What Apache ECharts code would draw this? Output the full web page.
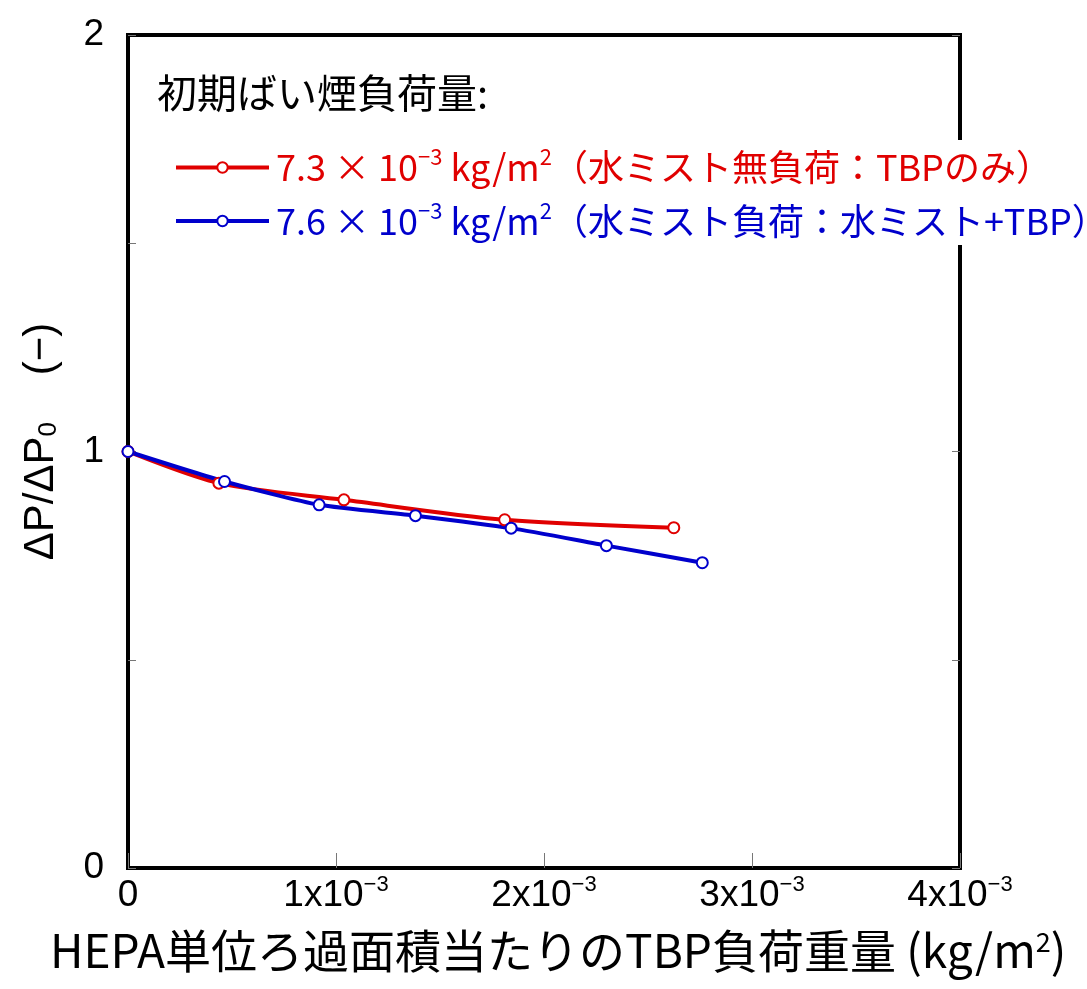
<!DOCTYPE html>
<html>
<head>
<meta charset="utf-8">
<script src="https://cdn.jsdelivr.net/npm/echarts@6/dist/echarts.min.js"></script>
<style>
  html, body { margin: 0; padding: 0; background: #fff; }
  #chart { width: 1087px; height: 989px; }
</style>
</head>
<body>
<div id="chart"></div>
<script>
// データ (x: ×10^-3 kg/m2)
const redX = [0, 0.437, 1.038, 1.811, 2.624];
const redY = [1.0, 0.924, 0.884, 0.836, 0.817];
const blueX = [0, 0.464, 0.919, 1.382, 1.842, 2.300, 2.761];
const blueY = [1.0, 0.928, 0.872, 0.846, 0.816, 0.774, 0.733];
const xTicks = [0, 1, 2, 3, 4];
const yTicks = [0, 1, 2];
const legendTitle = '初期ばい煙負荷量:';
const redName = '7.3 × 10-3 kg/m2（水ミスト無負荷：TBPのみ）';
const blueName = '7.6 × 10-3 kg/m2（水ミスト負荷：水ミスト+TBP）';

const RED = '#e00000';
const BLUE = '#0000cc';
const narrow = "'Liberation Sans Narrow', 'Liberation Sans', sans-serif";
const jp = "'Noto Sans CJK JP', 'Noto Sans', sans-serif";

const chart = echarts.init(document.getElementById('chart'));

function pairs(xs, ys) {
    return xs.map((x, i) => [x, ys[i]]);
}

const option = {
    animation: false,
    backgroundColor: '#fff',
    title: {
        text: legendTitle,
        left: 152,
        top: 68,
        textStyle: { fontFamily: jp, fontSize: 40, fontWeight: 'normal', color: '#000' }
    },
    legend: {
        orient: 'vertical',
        left: 160,
        top: 140,
        itemGap: 14,
        itemWidth: 93,
        itemHeight: 13,
        padding: [6, 14, 6, 14],
        backgroundColor: '#fff',
        lineStyle: { width: 4 },
        data: [
            { name: redName, textStyle: { color: RED } },
            { name: blueName, textStyle: { color: BLUE } }
        ],
        formatter: function (name) {
            const m = name.match(/^(\S+) × 10-3 kg\/m2(.*)$/);
            return '{p|}{t|' + m[1] + ' × 10}{s|−3}{t| kg/m}{s|2}{t|' + m[2] + '}';
        },
        textStyle: {
            fontFamily: jp,
            fontSize: 36,
            rich: {
                p: { width: 2 },
                t: { fontFamily: jp, fontSize: 36, lineHeight: 43 },
                s: { fontFamily: jp, fontSize: 22, verticalAlign: 'top', lineHeight: 28 }
            }
        }
    },
    grid: {
        left: 128,
        right: 127,
        top: 35,
        bottom: 121,
        show: true,
        borderColor: '#000',
        borderWidth: 4,
        backgroundColor: 'transparent'
    },
    xAxis: {
        type: 'value',
        min: 0,
        max: 4,
        interval: 1,
        axisLine: { show: false },
        axisTick: { show: true, inside: true, length: 15, lineStyle: { color: '#777', width: 1 } },
        splitLine: { show: false },
        axisLabel: {
            margin: 6,
            formatter: function (v) {
                return v === 0 ? '{n|0}' : '{n|' + v + 'x10}{s|−3}';
            },
            rich: {
                n: { fontFamily: narrow, fontSize: 37, color: '#000', lineHeight: 44 },
                s: { fontFamily: narrow, fontSize: 22, color: '#000', verticalAlign: 'top', lineHeight: 30 }
            }
        }
    },
    yAxis: [
        {
            type: 'value',
            min: 0,
            max: 2,
            interval: 0.5,
            name: 'ΔP/ΔP{b|0}    (−)',
            nameLocation: 'middle',
            nameRotate: 90,
            nameGap: 66,
            nameTextStyle: {
                fontFamily: "'Liberation Sans', sans-serif",
                fontSize: 42,
                color: '#000',
                padding: [0, 0, 0, 20],
                rich: {
                    b: { fontFamily: "'Liberation Sans', sans-serif", fontSize: 26, color: '#000', verticalAlign: 'bottom', lineHeight: 30 }
                }
            },
            axisLine: { show: false },
            axisTick: { show: true, inside: true, length: 8, lineStyle: { color: '#777', width: 1 } },
            splitLine: { show: false },
            axisLabel: {
                margin: 24,
                padding: [0, 0, 12, 0],
                fontFamily: narrow,
                fontSize: 37,
                color: '#000',
                formatter: function (v) {
                    return yTicks.indexOf(v) >= 0 ? String(v) : '';
                }
            }
        },
        {
            type: 'value',
            position: 'right',
            min: 0,
            max: 2,
            interval: 0.5,
            axisLine: { show: false },
            axisTick: { show: true, inside: true, length: 8, lineStyle: { color: '#777', width: 1 } },
            splitLine: { show: false },
            axisLabel: { show: false }
        }
    ],
    series: [
        {
            name: redName,
            type: 'line',
            data: pairs(redX, redY),
            smooth: 0.3,
            symbol: 'emptyCircle',
            symbolSize: 11,
            lineStyle: { color: RED, width: 4 },
            itemStyle: { color: RED, borderWidth: 1.3 }
        },
        {
            name: blueName,
            type: 'line',
            data: pairs(blueX, blueY),
            smooth: 0.2,
            symbol: 'emptyCircle',
            symbolSize: 11,
            lineStyle: { color: BLUE, width: 4 },
            itemStyle: { color: BLUE, borderWidth: 1.3 }
        }
    ],
    graphic: [
        {
            type: 'text',
            left: 50,
            top: 928,
            style: {
                text: 'HEPA単位ろ過面積当たりのTBP負荷重量 (kg/m{s|2})',
                fontFamily: jp,
                fontSize: 46,
                fill: '#000',
                rich: {
                    s: { fontFamily: jp, fontSize: 27, fill: '#000', verticalAlign: 'top', lineHeight: 32 }
                }
            }
        }
    ]
};

chart.setOption(option);
</script>
</body>
</html>
